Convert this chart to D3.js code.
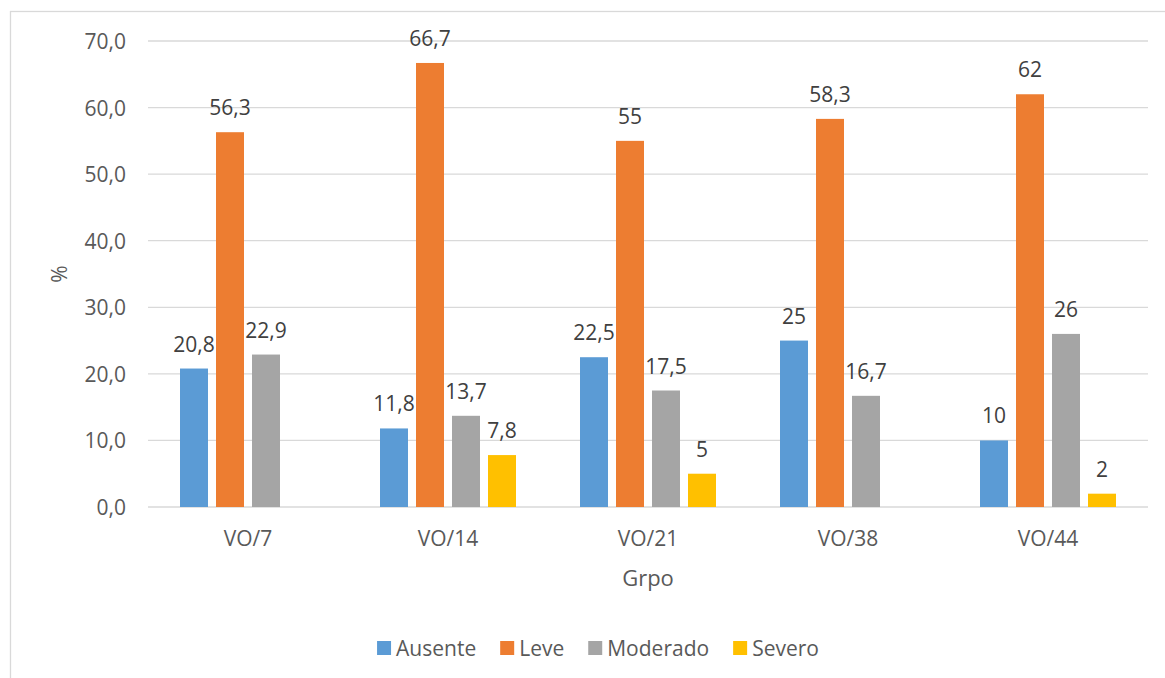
<!DOCTYPE html>
<html>
<head>
<meta charset="utf-8">
<script src="https://cdn.jsdelivr.net/npm/d3@7"></script>
<style>
  html, body { margin: 0; padding: 0; background: #fff; }
  svg { display: block; font-family: "Open Sans", "Liberation Sans", sans-serif; }
</style>
</head>
<body>
<svg id="chart" width="1165" height="678"></svg>
<script>
// Grupos y series (% por grado)
const categories = ["VO/7", "VO/14", "VO/21", "VO/38", "VO/44"];
const seriesNames = ["Ausente", "Leve", "Moderado", "Severo"];
const ausente  = [20.8, 11.8, 22.5, 25, 10];
const leve     = [56.3, 66.7, 55, 58.3, 62];
const moderado = [22.9, 13.7, 17.5, 16.7, 26];
const severo   = [null, 7.8, 5, null, 2];
const yTicks   = [0, 10, 20, 30, 40, 50, 60, 70];
const colors   = ["#5B9BD5", "#ED7D31", "#A5A5A5", "#FFC000"];

const seriesValues = [ausente, leve, moderado, severo];
const FS = 21;

const svg = d3.select("#chart");
const plot = { left: 148, right: 1148, top: 41, bottom: 507 };

// Chart area border
svg.append("rect")
  .attr("x", 10.5).attr("y", 11.5)
  .attr("width", 1200).attr("height", 720)
  .attr("fill", "#fff")
  .attr("stroke", "#d9d9d9").attr("stroke-width", 1.3);

const y = d3.scaleLinear().domain([0, 70]).range([plot.bottom, plot.top]);
const x0 = d3.scaleBand().domain(categories).range([plot.left, plot.right]);
const x1 = d3.scaleBand().domain(seriesNames)
  .range([32, x0.bandwidth() - 32])
  .paddingInner(8 / 36).paddingOuter(0);

// Gridlines
svg.append("g")
  .selectAll("line")
  .data(yTicks)
  .join("line")
  .attr("x1", plot.left).attr("x2", plot.right)
  .attr("y1", d => y(d)).attr("y2", d => y(d))
  .attr("stroke", "#d9d9d9").attr("stroke-width", 1.3);

// Y axis labels
const fmtTick = d => d3.format(".1f")(d).replace(".", ",");
svg.append("g")
  .selectAll("text")
  .data(yTicks)
  .join("text")
  .attr("x", 126).attr("y", d => y(d))
  .attr("text-anchor", "end").attr("dominant-baseline", "central")
  .attr("font-size", FS).attr("fill", "#595959")
  .text(fmtTick);

// Y axis title
svg.append("text")
  .attr("transform", `translate(59,${(plot.top + plot.bottom) / 2}) rotate(-90)`)
  .attr("text-anchor", "middle").attr("dominant-baseline", "central")
  .attr("font-size", FS).attr("fill", "#595959")
  .text("%");

// Bars
const rows = [];
categories.forEach((c, i) => {
  seriesNames.forEach((s, j) => {
    const v = seriesValues[j][i];
    if (v != null) rows.push({ c, s, v, color: colors[j] });
  });
});

svg.append("g")
  .selectAll("rect")
  .data(rows)
  .join("rect")
  .attr("x", d => x0(d.c) + x1(d.s))
  .attr("y", d => y(d.v))
  .attr("width", x1.bandwidth())
  .attr("height", d => y(0) - y(d.v))
  .attr("fill", d => d.color);

// Data labels
const fmtVal = v => String(v).replace(".", ",");
svg.append("g")
  .selectAll("text")
  .data(rows)
  .join("text")
  .attr("x", d => x0(d.c) + x1(d.s) + x1.bandwidth() / 2)
  .attr("y", d => y(d.v) - 25)
  .attr("text-anchor", "middle").attr("dominant-baseline", "central")
  .attr("font-size", FS).attr("fill", "#404040")
  .text(d => fmtVal(d.v));

// Category labels
svg.append("g")
  .selectAll("text")
  .data(categories)
  .join("text")
  .attr("x", d => x0(d) + x0.bandwidth() / 2)
  .attr("y", 538)
  .attr("text-anchor", "middle").attr("dominant-baseline", "central")
  .attr("font-size", FS).attr("fill", "#595959")
  .text(d => d);

// X axis title
svg.append("text")
  .attr("x", (plot.left + plot.right) / 2).attr("y", 577)
  .attr("text-anchor", "middle").attr("dominant-baseline", "central")
  .attr("font-size", 22).attr("fill", "#595959")
  .text("Grpo");

// Legend, centred in the chart area
const legend = svg.append("g");
let cursor = 0;
seriesNames.forEach((s, j) => {
  const g = legend.append("g").attr("transform", `translate(${cursor},0)`);
  g.append("rect").attr("x", 0).attr("y", -7).attr("width", 14).attr("height", 14)
    .attr("fill", colors[j]);
  const t = g.append("text").attr("x", 19).attr("y", 0)
    .attr("dominant-baseline", "central")
    .attr("font-size", FS).attr("fill", "#595959")
    .text(s);
  cursor += 19 + t.node().getComputedTextLength() + 24;
});
const legendWidth = cursor - 24;
legend.attr("transform", `translate(${598 - legendWidth / 2},648)`);
</script>
</body>
</html>
